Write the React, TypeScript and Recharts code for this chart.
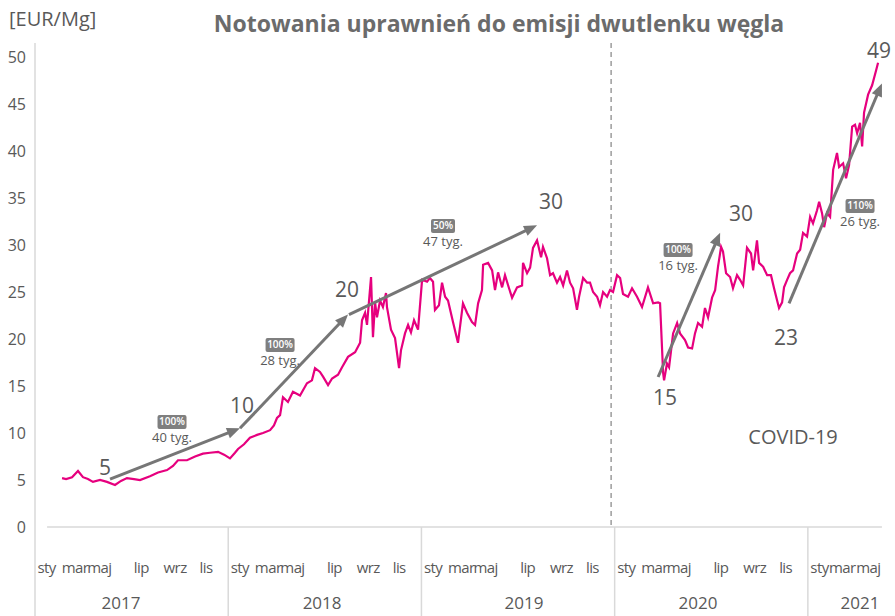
import React from 'react';
import { LineChart, Line, XAxis, YAxis, ReferenceLine, ReferenceDot } from 'recharts';

const FONT = '"Open Sans", "Noto Sans", sans-serif';
const GRAY_TXT = '#595959';
const ARROW = '#767676';
const PINK = '#E6007E';

// months since 1 Jan 2017
const monthPos = [
  1.68, 1.93, 2.3, 2.67, 2.98, 3.29, 3.6, 4.04, 4.47, 4.97, 5.34, 5.71, 6.15, 6.52, 7.14, 7.64, 8.2, 8.57, 8.88, 9.44,
  9.94, 10.43, 10.87, 11.37, 11.74, 12.11, 12.42, 12.61, 12.98, 13.35, 13.79, 14.16, 14.6, 14.84, 15.03, 15.22, 15.4, 15.71, 16.02, 16.46,
  16.89, 17.2, 17.39, 17.7, 17.89, 18.2, 18.45, 18.82, 19.07, 19.44, 19.88, 20.19, 20.31, 20.5, 20.62, 20.87, 20.99, 21.12, 21.24, 21.43,
  21.61, 21.8, 21.86, 22.11, 22.36, 22.61, 22.73, 22.98, 23.17, 23.35, 23.54, 23.79, 24.04, 24.35, 24.53, 24.72, 24.84, 25.09, 25.28, 25.47,
  25.65, 25.96, 26.27, 26.58, 26.83, 27.14, 27.33, 27.52, 27.76, 27.83, 28.14, 28.39, 28.57, 28.76, 29.01, 29.19, 29.44, 29.63, 29.94, 30.25,
  30.31, 30.56, 30.75, 30.93, 31.18, 31.43, 31.55, 31.8, 31.99, 32.17, 32.42, 32.61, 32.8, 33.04, 33.23, 33.42, 33.66, 33.79, 34.04, 34.29,
  34.47, 34.66, 34.91, 35.09, 35.28, 35.53, 35.71, 35.9, 36.15, 36.34, 36.52, 36.83, 37.08, 37.39, 37.7, 38.07, 38.39, 38.7, 38.82, 39.01,
  39.07, 39.25, 39.38, 39.63, 39.88, 40.06, 40.37, 40.56, 40.81, 40.99, 41.18, 41.43, 41.61, 41.8, 42.05, 42.24, 42.42, 42.61, 42.73, 42.92,
  43.17, 43.35, 43.6, 43.79, 43.98, 44.22, 44.47, 44.6, 44.84, 44.97, 45.22, 45.47, 45.71, 45.9, 46.09, 46.21, 46.4, 46.52, 46.71, 46.89,
  47.08, 47.33, 47.52, 47.7, 47.95, 48.14, 48.32, 48.57, 48.7, 48.88, 49.01, 49.19, 49.38, 49.57, 49.81, 49.94, 50.19, 50.37, 50.56, 50.75,
  50.93, 51.06, 51.24, 51.37, 51.49, 51.74, 51.99, 52.24, 52.36,
];

// EUR/Mg
const price = [
  5.2, 5.1, 5.3, 5.96, 5.3, 5.1, 4.8, 5.0, 4.8, 4.47, 4.9, 5.2, 5.1, 5.0, 5.4, 5.8, 6.06, 6.5, 7.1, 7.1,
  7.5, 7.8, 7.9, 8.0, 7.7, 7.3, 7.9, 8.3, 8.8, 9.5, 9.8, 10.0, 10.3, 10.8, 11.6, 11.9, 13.8, 13.3, 14.4, 14.0,
  15.3, 15.6, 16.9, 16.5, 16.0, 15.1, 15.8, 16.2, 17.0, 18.1, 18.6, 19.6, 22.0, 22.8, 21.5, 26.6, 20.2, 23.9, 22.3, 24.1,
  23.4, 24.9, 23.4, 21.0, 20.1, 16.9, 18.8, 20.6, 21.5, 20.7, 22.0, 21.0, 26.3, 26.1, 26.5, 26.1, 23.1, 23.6, 26.0, 24.5,
  24.1, 21.8, 19.6, 23.8, 22.8, 21.8, 21.5, 23.8, 25.2, 27.9, 28.1, 27.3, 25.2, 27.1, 25.5, 26.8, 25.4, 24.4, 25.5, 25.7,
  28.1, 27.0, 27.6, 29.7, 30.5, 28.7, 29.8, 28.6, 26.8, 27.0, 26.0, 26.6, 25.7, 27.3, 26.0, 25.4, 23.1, 24.5, 26.5, 26.0,
  26.0, 25.0, 24.5, 23.6, 25.0, 24.5, 25.2, 25.0, 26.8, 26.5, 24.8, 24.5, 25.4, 24.5, 23.4, 25.5, 23.8, 23.9, 23.8, 16.4,
  15.6, 17.4, 17.0, 20.6, 21.7, 20.6, 19.9, 19.1, 19.0, 20.6, 21.7, 21.3, 23.3, 22.3, 24.4, 25.2, 27.7, 29.8, 29.3, 27.0,
  26.6, 25.4, 26.8, 26.3, 25.7, 29.7, 29.1, 27.3, 30.5, 28.1, 27.7, 26.8, 26.8, 25.4, 24.1, 23.3, 23.9, 25.5, 26.3, 27.0,
  27.3, 29.1, 29.5, 31.3, 30.9, 33.0, 32.3, 33.7, 34.6, 33.4, 31.9, 33.4, 33.0, 38.0, 39.8, 38.3, 38.7, 37.1, 38.5, 42.6,
  42.8, 41.9, 43.0, 40.5, 44.1, 46.0, 47.0, 48.6, 49.4,
];

const data = monthPos.map((m, i) => ({ t: m, v: price[i] }));

const yTicks = [0, 5, 10, 15, 20, 25, 30, 35, 40, 45, 50];
const monthNames = ['sty', 'mar', 'maj', 'lip', 'wrz', 'lis'];
const monthOffsets = [0.72, 2.48, 3.99, 6.6, 8.7, 10.62];
const monthOffsets2021 = [0.72, 2.13, 3.75];
const years = ['2017', '2018', '2019', '2020', '2021'];
const yearStarts = [0, 12, 24, 36, 48];
const yearLabelPos = [5.34, 17.83, 30.37, 41.18, 51.24];
const X_MAX = 52.48;
const Y_MAX = 51.5;
const covidLine = 35.78;

const monthTicks: { pos: number; name: string }[] = [];
yearStarts.forEach((ys, yi) => {
  const offs = yi === 4 ? monthOffsets2021 : monthOffsets;
  offs.forEach((o, k) => monthTicks.push({ pos: +(ys + o).toFixed(3), name: monthNames[k] }));
});
const monthNameAt = (v: number) => {
  const f = monthTicks.find((m) => Math.abs(m.pos - v) < 1e-6);
  return f ? f.name : '';
};
const yearNameAt = (v: number) => {
  const i = yearLabelPos.findIndex((p) => Math.abs(p - v) < 1e-6);
  return i >= 0 ? years[i] : '';
};

const arrows = [
  { from: [4.66, 5.1], to: [12.73, 10.5] },
  { from: [12.73, 10.5], to: [19.44, 22.6] },
  { from: [19.5, 22.6], to: [31.18, 32.1] },
  { from: [38.7, 15.96], to: [42.55, 31.3] },
  { from: [46.83, 23.8], to: [52.6, 47.2] },
];

const valueLabels = [
  { t: 4.35, v: 6.38, text: '5' },
  { t: 12.86, v: 12.98, text: '10' },
  { t: 19.38, v: 25.32, text: '20' },
  { t: 32.05, v: 34.68, text: '30' },
  { t: 43.85, v: 33.4, text: '30' },
  { t: 39.13, v: 13.83, text: '15' },
  { t: 46.65, v: 20.21, text: '23' },
  { t: 52.42, v: 50.74, text: '49' },
];

const badges = [
  { t: 8.51, v: 11.17, pct: '100%', weeks: '40 tyg.' },
  { t: 15.22, v: 19.36, pct: '100%', weeks: '28 tyg.' },
  { t: 25.34, v: 32.02, pct: '50%', weeks: '47 tyg.' },
  { t: 39.94, v: 29.47, pct: '100%', weeks: '16 tyg.' },
  { t: 51.24, v: 34.15, pct: '110%', weeks: '26 tyg.' },
];

const arrowShape = (p: any) => {
  const { x1, y1, x2, y2 } = p;
  if ([x1, y1, x2, y2].some((n) => n === undefined || isNaN(n))) return <g />;
  const dx = x2 - x1;
  const dy = y2 - y1;
  const len = Math.sqrt(dx * dx + dy * dy);
  const ux = dx / len;
  const uy = dy / len;
  const hl = 13;
  const hw = 5.5;
  const bx = x2 - ux * hl;
  const by = y2 - uy * hl;
  const px = -uy;
  const py = ux;
  return (
    <g>
      <line x1={x1} y1={y1} x2={bx + ux * 1} y2={by + uy * 1} stroke={ARROW} strokeWidth={3} />
      <polygon
        points={`${x2},${y2} ${bx + px * hw},${by + py * hw} ${bx - px * hw},${by - py * hw}`}
        fill={ARROW}
      />
    </g>
  );
};

const plainLine = (color: string, width: number, dash?: string) => (p: any) => {
  const { x1, y1, x2, y2 } = p;
  if ([x1, y1, x2, y2].some((n) => n === undefined || isNaN(n))) return <g />;
  return <line x1={x1} y1={y1} x2={x2} y2={y2} stroke={color} strokeWidth={width} strokeDasharray={dash} />;
};

const MonthTick = (props: any) => {
  const { x, y, payload } = props;
  return (
    <text
      x={x}
      y={y + 42}
      textAnchor="middle"
      dominantBaseline="middle"
      fill={GRAY_TXT}
      fontSize={15}
      letterSpacing={-0.6}
      fontFamily={FONT}
    >
      {monthNameAt(payload.value)}
    </text>
  );
};

const YearTick = (props: any) => {
  const { x, y, payload } = props;
  return (
    <text x={x} y={y + 22} textAnchor="middle" dominantBaseline="middle" fill={GRAY_TXT} fontSize={17} fontFamily={FONT}>
      {yearNameAt(payload.value)}
    </text>
  );
};

const YTick = (props: any) => {
  const { y, payload } = props;
  return (
    <text x={26} y={y + 2} textAnchor="end" dominantBaseline="middle" fill={GRAY_TXT} fontSize={16} fontFamily={FONT}>
      {payload.value}
    </text>
  );
};

export default function App() {
  return (
    <div style={{ position: 'absolute', left: 0, top: 0, width: 895, height: 616, background: '#fff' }}>
      <div
        style={{
          position: 'absolute',
          left: 0,
          width: 998,
          top: 7,
          textAlign: 'center',
          fontFamily: FONT,
          fontWeight: 700,
          fontSize: 23,
          color: '#6b6b6b',
          whiteSpace: 'nowrap',
        }}
      >
        Notowania uprawnień do emisji dwutlenku węgla
      </div>
      <div
        style={{
          position: 'absolute',
          left: 9,
          top: 5,
          fontFamily: FONT,
          fontSize: 20,
          color: GRAY_TXT,
          whiteSpace: 'nowrap',
        }}
      >
        [EUR/Mg]
      </div>
      <div style={{ position: 'absolute', left: 0, top: 0 }}>
        <LineChart width={895} height={616} data={data} margin={{ top: 43, right: 15, left: 0, bottom: 0 }}>
          <XAxis
            dataKey="t"
            type="number"
            domain={[0, X_MAX]}
            allowDataOverflow
            ticks={monthTicks.map((m) => m.pos)}
            interval={0}
            tick={<MonthTick />}
            axisLine={false}
            tickLine={false}
            tickSize={0}
            tickMargin={0}
            height={55}
          />
          <XAxis
            xAxisId="yr"
            dataKey="t"
            type="number"
            domain={[0, X_MAX]}
            allowDataOverflow
            ticks={yearLabelPos}
            interval={0}
            tick={<YearTick />}
            axisLine={false}
            tickLine={false}
            tickSize={0}
            tickMargin={0}
            height={34}
          />
          <YAxis
            type="number"
            domain={[0, Y_MAX]}
            ticks={yTicks}
            interval={0}
            tick={<YTick />}
            axisLine={false}
            tickLine={false}
            tickSize={0}
            width={35}
          />
          {/* axis frame */}
          <ReferenceLine
            segment={[{ x: 0, y: Y_MAX }, { x: 0, y: -9.5 }]}
            ifOverflow="visible"
            shape={plainLine('#d9d9d9', 1.5)}
          />
          <ReferenceLine
            segment={[{ x: 0.75, y: 0 }, { x: 52.6, y: 0 }]}
            ifOverflow="visible"
            shape={plainLine('#d9d9d9', 1.5)}
          />
          {yearStarts.slice(1).map((ys) => (
            <ReferenceLine
              key={'ys' + ys}
              segment={[{ x: ys, y: 0 }, { x: ys, y: -9.5 }]}
              ifOverflow="visible"
              shape={plainLine('#d9d9d9', 1.5)}
            />
          ))}
          <ReferenceLine
            segment={[{ x: covidLine, y: Y_MAX }, { x: covidLine, y: 0 }]}
            ifOverflow="visible"
            shape={plainLine('#8c8c8c', 1.3, '5 4')}
          />
          <Line
            type="linear"
            dataKey="v"
            stroke={PINK}
            strokeWidth={2.2}
            dot={false}
            activeDot={false}
            isAnimationActive={false}
          />
          {arrows.map((a, i) => (
            <ReferenceLine
              key={'ar' + i}
              segment={[{ x: a.from[0], y: a.from[1] }, { x: a.to[0], y: a.to[1] }]}
              ifOverflow="visible"
              shape={arrowShape}
            />
          ))}
          {valueLabels.map((l, i) => (
            <ReferenceDot
              key={'vl' + i}
              x={l.t}
              y={l.v}
              r={0}
              ifOverflow="visible"
              shape={(p: any) => (
                <text
                  x={p.cx}
                  y={p.cy + 2}
                  textAnchor="middle"
                  dominantBaseline="middle"
                  fill={GRAY_TXT}
                  fontSize={21}
                  fontFamily={FONT}
                >
                  {l.text}
                </text>
              )}
            />
          ))}
          <ReferenceDot
            x={47.08}
            y={9.47}
            r={0}
            ifOverflow="visible"
            shape={(p: any) => (
              <text
                x={p.cx}
                y={p.cy + 1}
                textAnchor="middle"
                dominantBaseline="middle"
                fill={GRAY_TXT}
                fontSize={20}
                fontFamily={FONT}
              >
                COVID-19
              </text>
            )}
          />
          {badges.map((b, i) => (
            <ReferenceDot
              key={'bd' + i}
              x={b.t}
              y={b.v}
              r={0}
              ifOverflow="visible"
              shape={(p: any) => {
                const w = b.pct.length === 3 ? 24 : 29;
                return (
                  <g>
                    <rect x={p.cx - w / 2} y={p.cy - 7} width={w} height={14} rx={2} fill="#7f7f7f" />
                    <text
                      x={p.cx}
                      y={p.cy + 0.5}
                      textAnchor="middle"
                      dominantBaseline="middle"
                      fill="#ffffff"
                      fontSize={10}
                      fontWeight={600}
                      fontFamily={FONT}
                    >
                      {b.pct}
                    </text>
                    <text
                      x={p.cx}
                      y={p.cy + 16}
                      textAnchor="middle"
                      dominantBaseline="middle"
                      fill={GRAY_TXT}
                      fontSize={13}
                      fontFamily={FONT}
                    >
                      {b.weeks}
                    </text>
                  </g>
                );
              }}
            />
          ))}
        </LineChart>
      </div>
    </div>
  );
}
